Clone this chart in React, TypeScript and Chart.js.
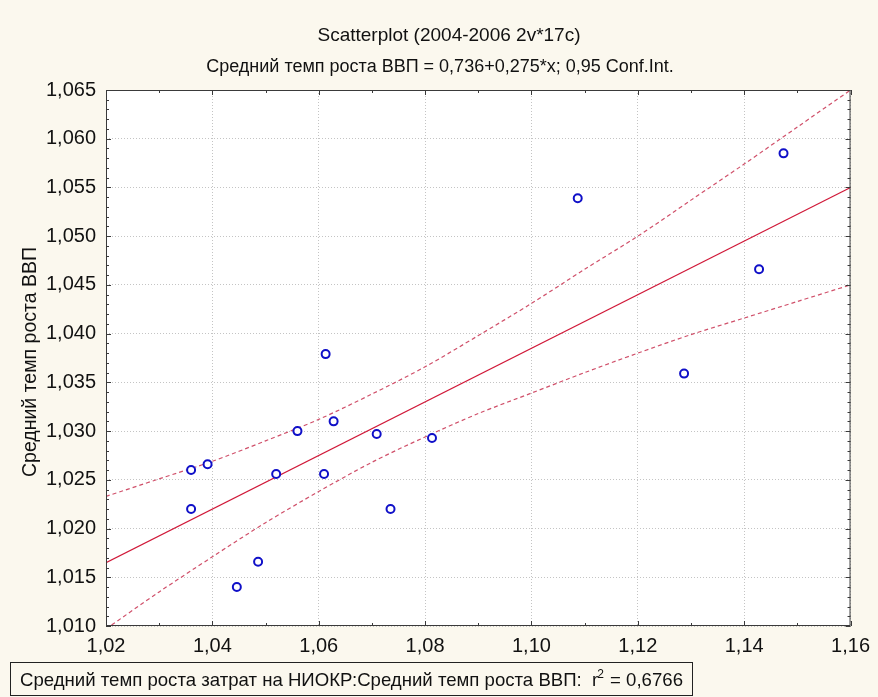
import React, { useEffect, useRef } from "react";
import { Chart, registerables } from "chart.js";

Chart.register(...registerables);

// Observations: average growth rate of R&D spending (x) vs average GDP growth rate (y)
const pointX = [1.036, 1.0391, 1.036, 1.0446, 1.0486, 1.052, 1.056, 1.061, 1.0613, 1.0628, 1.0709, 1.0735, 1.0813, 1.1087, 1.1287, 1.1428, 1.1474];
const pointY = [1.026, 1.0266, 1.022, 1.014, 1.0166, 1.0256, 1.03, 1.0256, 1.0379, 1.031, 1.0297, 1.022, 1.0293, 1.0539, 1.0359, 1.0466, 1.0585];

// Fitted line y = a + b*x
const intercept = 0.736;
const slope = 0.275;

// 0.95 confidence band of the fit
const bandX = [1.02, 1.03, 1.04, 1.05, 1.06, 1.07, 1.08, 1.09, 1.1, 1.11, 1.12, 1.13, 1.14, 1.15, 1.16];
const bandUpper = [1.0233, 1.0251, 1.0269, 1.029, 1.0312, 1.0338, 1.0366, 1.0398, 1.0431, 1.0466, 1.05, 1.0537, 1.0574, 1.0612, 1.065];
const bandLower = [1.0097, 1.0135, 1.0171, 1.0206, 1.0238, 1.0268, 1.0294, 1.0318, 1.0339, 1.036, 1.038, 1.0399, 1.0416, 1.0433, 1.045];

const xTicks = [1.02, 1.04, 1.06, 1.08, 1.1, 1.12, 1.14, 1.16];
const yTicks = [1.01, 1.015, 1.02, 1.025, 1.03, 1.035, 1.04, 1.045, 1.05, 1.055, 1.06, 1.065];

const titleText = "Scatterplot (2004-2006 2v*17c)";
const subtitleText = "Средний темп роста ВВП = 0,736+0,275*x; 0,95 Conf.Int.";
const yAxisTitle = "Средний темп роста ВВП";
const footerLead = "Средний темп роста затрат на НИОКР:Средний темп роста ВВП:  r";
const footerSup = "2";
const footerTail = " = 0,6766";

const FONT = "'Liberation Sans', Arial, sans-serif";
const PAGE_BG = "#fbf8ee";

const fmt = (v: number, digits: number) => v.toFixed(digits).replace(".", ",");

const framePlugin = {
  id: "frame",
  beforeDraw(chart: any) {
    const { ctx, chartArea: a } = chart;
    ctx.save();
    ctx.fillStyle = PAGE_BG;
    ctx.fillRect(0, 0, chart.width, chart.height);
    ctx.fillStyle = "#ffffff";
    ctx.fillRect(a.left, a.top, a.right - a.left, a.bottom - a.top);
    ctx.restore();
  },
  afterDraw(chart: any) {
    const { ctx, chartArea: a, scales } = chart;
    const xs = scales.x;
    const ys = scales.y;
    ctx.save();
    ctx.strokeStyle = "#3a3a3a";
    ctx.lineWidth = 1;
    ctx.strokeRect(a.left + 0.5, a.top + 0.5, a.right - a.left - 1, a.bottom - a.top - 1);

    // inward tick marks on all four sides
    ctx.beginPath();
    for (let i = 0; i <= 14; i++) {
      const v = 1.02 + i * 0.01;
      const px = Math.round(xs.getPixelForValue(v)) + 0.5;
      const len = i % 2 === 0 ? 5 : 3;
      ctx.moveTo(px, a.bottom);
      ctx.lineTo(px, a.bottom - len);
      ctx.moveTo(px, a.top);
      ctx.lineTo(px, a.top + len);
    }
    for (let i = 0; i <= 55; i++) {
      const v = 1.01 + i * 0.001;
      const py = Math.round(ys.getPixelForValue(v)) + 0.5;
      const len = i % 5 === 0 ? 5 : 3;
      ctx.moveTo(a.left, py);
      ctx.lineTo(a.left + len, py);
      ctx.moveTo(a.right, py);
      ctx.lineTo(a.right - len, py);
    }
    ctx.stroke();

    // titles
    ctx.fillStyle = "#111111";
    ctx.textAlign = "center";
    ctx.textBaseline = "middle";
    ctx.font = `19px ${FONT}`;
    ctx.fillText(titleText, 449, 36);
    ctx.font = `18px ${FONT}`;
    ctx.fillText(subtitleText, 440, 67);

    // vertical axis title
    ctx.save();
    ctx.font = `19.5px ${FONT}`;
    ctx.translate(31, 362);
    ctx.rotate(-Math.PI / 2);
    ctx.fillText(yAxisTitle, 0, 0);
    ctx.restore();

    // footer box with r-squared
    ctx.strokeStyle = "#222222";
    ctx.strokeRect(10.5, 662.5, 682, 33);
    ctx.textAlign = "left";
    ctx.font = `18.6px ${FONT}`;
    let x = 20;
    ctx.fillText(footerLead, x, 681);
    x += ctx.measureText(footerLead).width;
    ctx.font = `12px ${FONT}`;
    ctx.fillText(footerSup, x - 1, 675);
    x += ctx.measureText(footerSup).width;
    ctx.font = `18.6px ${FONT}`;
    ctx.fillText(footerTail, x, 681);
    ctx.restore();
  },
};

export default function App() {
  const ref = useRef<HTMLCanvasElement | null>(null);

  useEffect(() => {
    document.body.style.margin = "0";
    const canvas = ref.current;
    if (!canvas) return;

    const points = pointX.map((x, i) => ({ x, y: pointY[i] }));
    const fitLine = [1.02, 1.16].map((x) => ({ x, y: intercept + slope * x }));
    const upper = bandX.map((x, i) => ({ x, y: bandUpper[i] }));
    const lower = bandX.map((x, i) => ({ x, y: bandLower[i] }));

    const chart = new Chart(canvas, {
      type: "scatter",
      data: {
        datasets: [
          {
            data: points,
            showLine: false,
            pointStyle: "circle",
            pointRadius: 4,
            pointBorderWidth: 2,
            pointBorderColor: "#1010c8",
            pointBackgroundColor: "#ffffff",
            order: 0,
          } as any,
          {
            data: fitLine,
            showLine: true,
            pointRadius: 0,
            borderColor: "#d01838",
            borderWidth: 1.2,
            order: 1,
          },
          {
            data: upper,
            showLine: true,
            pointRadius: 0,
            borderColor: "#d0506a",
            borderWidth: 1.2,
            borderDash: [4, 3],
            tension: 0.3,
            order: 1,
          },
          {
            data: lower,
            showLine: true,
            pointRadius: 0,
            borderColor: "#d0506a",
            borderWidth: 1.2,
            borderDash: [4, 3],
            tension: 0.3,
            order: 1,
          },
        ],
      },
      options: {
        animation: false,
        responsive: false,
        events: [],
        layout: { padding: { left: 0, right: 16, top: 90, bottom: 0 } },
        plugins: {
          legend: { display: false },
          title: { display: false },
          tooltip: { enabled: false },
        },
        scales: {
          x: {
            type: "linear",
            min: 1.02,
            max: 1.16,
            afterBuildTicks: (s: any) => {
              s.ticks = xTicks.map((value) => ({ value }));
            },
            afterFit: (s: any) => {
              s.height = 71;
            },
            grid: { color: "#c4c4c4", lineWidth: 1, drawTicks: false },
            border: { display: false, dash: [1, 2] },
            ticks: {
              padding: 8,
              color: "#111111",
              font: { family: FONT, size: 20 },
              maxRotation: 0,
              minRotation: 0,
              autoSkip: false,
              callback: (v: any) => fmt(Number(v), 2),
            },
          },
          y: {
            type: "linear",
            min: 1.01,
            max: 1.065,
            afterBuildTicks: (s: any) => {
              s.ticks = yTicks.map((value) => ({ value }));
            },
            afterFit: (s: any) => {
              s.width = 106;
            },
            grid: { color: "#c4c4c4", lineWidth: 1, drawTicks: false },
            border: { display: false, dash: [1, 2] },
            ticks: {
              padding: 10,
              color: "#111111",
              font: { family: FONT, size: 20 },
              autoSkip: false,
              callback: (v: any) => fmt(Number(v), 3),
            },
          },
        },
      },
      plugins: [framePlugin],
    });

    return () => chart.destroy();
  }, []);

  return (
    <div style={{ position: "fixed", left: 0, top: 0, width: 878, height: 697, background: PAGE_BG }}>
      <canvas ref={ref} width={878} height={697} style={{ width: 878, height: 697, display: "block" }} />
    </div>
  );
}
